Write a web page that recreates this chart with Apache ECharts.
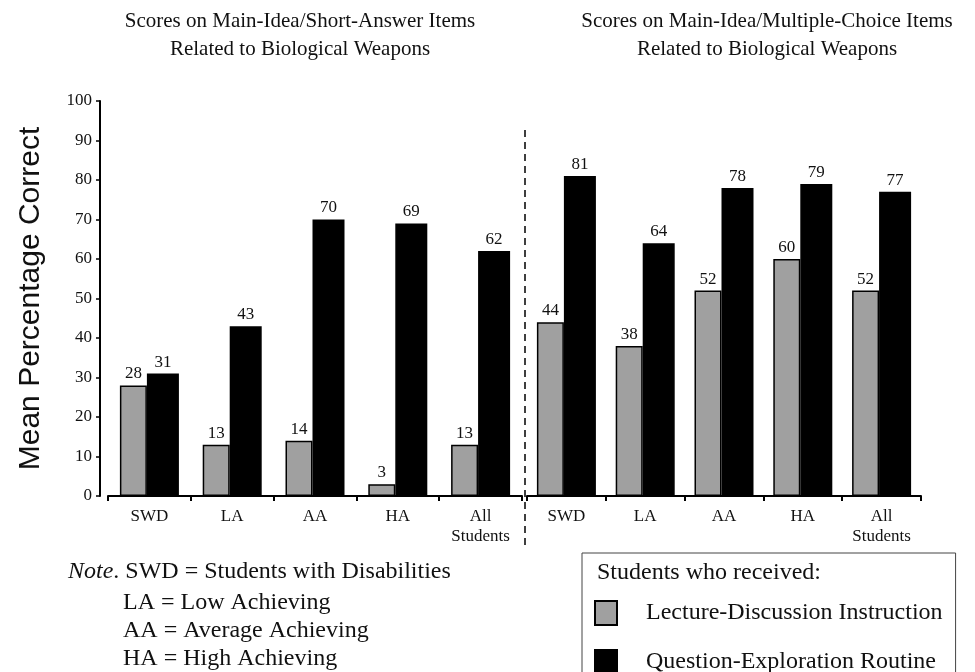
<!DOCTYPE html>
<html>
<head>
<meta charset="utf-8">
<script src="https://cdn.jsdelivr.net/npm/echarts@6/dist/echarts.min.js"></script>
<style>
  html, body { margin: 0; padding: 0; background: #fff; }
  #chart { width: 975px; height: 672px; }
</style>
</head>
<body>
<div id="chart"></div>
<script>
// Student groups shown on both panels
const categories = ['SWD', 'LA', 'AA', 'HA', 'All\nStudents'];

// Main-idea / short-answer items
const shortAnswerLecture = [28, 13, 14, 3, 13];
const shortAnswerQuestion = [31, 43, 70, 69, 62];

// Main-idea / multiple-choice items
const multipleChoiceLecture = [44, 38, 52, 60, 52];
const multipleChoiceQuestion = [81, 64, 78, 79, 77];

const yTicks = [0, 10, 20, 30, 40, 50, 60, 70, 80, 90, 100];

const seriesNames = ['Lecture-Discussion Instruction', 'Question-Exploration Routine'];
const panelTitles = [
  'Scores on Main-Idea/Short-Answer Items\nRelated to Biological Weapons',
  'Scores on Main-Idea/Multiple-Choice Items\nRelated to Biological Weapons'
];
const noteLines = [
  'SWD = Students with Disabilities',
  'LA = Low Achieving',
  'AA = Average Achieving',
  'HA = High Achieving'
];

const SERIF = '"Liberation Serif", "DejaVu Serif", serif';
const SANS = '"Liberation Sans", Arial, sans-serif';
const GRAY = '#a0a0a0';

// Plot geometry
const PLOT_TOP = 101;
const PLOT_BOTTOM = 672 - 496;
const LEFT_PANEL = { left: 108, width: 414 };
const RIGHT_PANEL = { left: 527, width: 394 };
const DIVIDER_X = 525;

const chart = echarts.init(document.getElementById('chart'), null, { renderer: 'canvas' });

function xAxisFor(gridIndex) {
  return {
    type: 'category',
    gridIndex,
    data: categories,
    axisLine: { show: true, lineStyle: { color: '#000', width: 2 } },
    axisTick: { show: true, alignWithLabel: false, length: 5, lineStyle: { color: '#000', width: 2 } },
    axisLabel: {
      color: '#111', fontFamily: SERIF, fontSize: 17, lineHeight: 20, margin: 11
    }
  };
}

function barSeries(name, data, axisIndex, color, width) {
  return {
    type: 'bar',
    name,
    data,
    xAxisIndex: axisIndex,
    yAxisIndex: axisIndex,
    barWidth: width,
    barGap: '0%',
    itemStyle: { color, borderColor: '#000', borderWidth: 1.5 },
    label: {
      show: true, position: 'top', distance: 3,
      color: '#111', fontFamily: SERIF, fontSize: 17
    },
    emphasis: { disabled: true }
  };
}

const yMax = yTicks[yTicks.length - 1];
const yStep = yTicks[1] - yTicks[0];

const titleStyle = { fontFamily: SERIF, fontSize: 21, fontWeight: 'normal', color: '#111', lineHeight: 28 };

const option = {
  backgroundColor: '#fff',
  animation: false,
  title: [
    { text: panelTitles[0], left: 295, top: 2, textAlign: 'center', textStyle: titleStyle },
    { text: panelTitles[1], left: 762, top: 2, textAlign: 'center', textStyle: titleStyle }
  ],
  grid: [
    { left: LEFT_PANEL.left, width: LEFT_PANEL.width, top: PLOT_TOP, bottom: PLOT_BOTTOM },
    { left: RIGHT_PANEL.left, width: RIGHT_PANEL.width, top: PLOT_TOP, bottom: PLOT_BOTTOM }
  ],
  xAxis: [xAxisFor(0), xAxisFor(1)],
  yAxis: [
    {
      type: 'value', gridIndex: 0, min: yTicks[0], max: yMax, interval: yStep,
      offset: 8,
      name: 'Mean Percentage Correct',
      nameLocation: 'middle', nameGap: 54, nameRotate: 90,
      nameTextStyle: { fontFamily: SANS, fontSize: 30, color: '#111' },
      axisLine: { show: true, lineStyle: { color: '#000', width: 2 } },
      axisTick: { show: true, length: 4, lineStyle: { color: '#000', width: 1.5 } },
      axisLabel: { color: '#111', fontFamily: SERIF, fontSize: 17, margin: 8 },
      splitLine: { show: false }
    },
    {
      type: 'value', gridIndex: 1, min: yTicks[0], max: yMax, interval: yStep,
      show: false, splitLine: { show: false }
    }
  ],
  legend: {
    orient: 'vertical',
    left: 582, top: 553,
    height: 80,
    padding: [47, 13, 20, 12],
    itemGap: 23,
    itemWidth: 22, itemHeight: 24,
    icon: 'rect',
    borderColor: '#444', borderWidth: 1,
    selectedMode: false,
    data: seriesNames,
    textStyle: { fontFamily: SERIF, fontSize: 24, color: '#111', padding: [0, 0, 0, 24] }
  },
  series: [
    barSeries(seriesNames[0], shortAnswerLecture, 0, GRAY, 27),
    barSeries(seriesNames[1], shortAnswerQuestion, 0, '#000', 32),
    barSeries(seriesNames[0], multipleChoiceLecture, 1, GRAY, 27),
    barSeries(seriesNames[1], multipleChoiceQuestion, 1, '#000', 32)
  ],
  graphic: [
    // dashed separator between the two panels
    {
      type: 'line', silent: true,
      shape: { x1: DIVIDER_X, y1: 130, x2: DIVIDER_X, y2: 545 },
      style: { stroke: '#000', lineWidth: 1.5, lineDash: [7, 5] }
    },
    // legend heading
    {
      type: 'text', left: 597, top: 561, silent: true,
      style: { text: 'Students who received:', font: '24px ' + SERIF, fill: '#111' }
    },
    // abbreviation note
    {
      type: 'text', left: 68, top: 560, silent: true,
      style: {
        text: '{i|Note}. ' + noteLines[0],
        font: '24px ' + SERIF, fill: '#111',
        rich: { i: { fontStyle: 'italic', fontFamily: SERIF, fontSize: 24, fill: '#111' } }
      }
    },
    {
      type: 'text', left: 123, top: 589, silent: true,
      style: { text: noteLines.slice(1).join('\n'), font: '24px ' + SERIF, fill: '#111', lineHeight: 28 }
    }
  ]
};

chart.setOption(option);
</script>
</body>
</html>
